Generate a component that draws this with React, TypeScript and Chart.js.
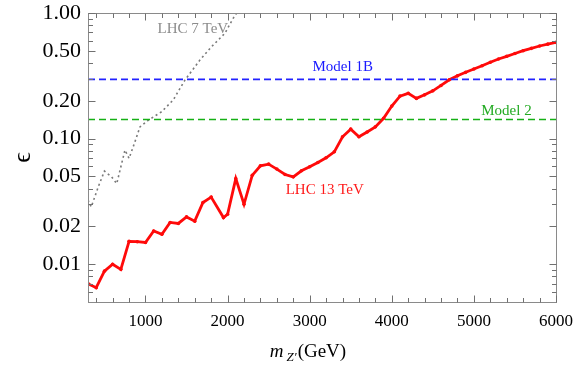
import React, { useEffect, useRef } from "react";
import { Chart, registerables } from "chart.js";

Chart.register(...registerables);

// ---- data ----
const lhc13Mass = [300, 400, 500, 600, 700, 800, 900, 1000, 1100, 1200, 1300, 1400, 1500, 1600, 1700, 1800, 1950, 2000, 2100, 2200, 2300, 2400, 2500, 2600, 2700, 2800, 2900, 3000, 3100, 3200, 3300, 3400, 3500, 3600, 3700, 3800, 3900, 4000, 4100, 4200, 4300, 4400, 4500, 4600, 4700, 4800, 4900, 5000, 5100, 5200, 5300, 5400, 5500, 5600, 5700, 5800, 5900, 6000];
const lhc13Eps = [0.0070, 0.0065, 0.0088, 0.0100, 0.0091, 0.0152, 0.0151, 0.0149, 0.0184, 0.0173, 0.0215, 0.0211, 0.0238, 0.0220, 0.0310, 0.0342, 0.0235, 0.0250, 0.0480, 0.0300, 0.0510, 0.0607, 0.0626, 0.0572, 0.0518, 0.0496, 0.0554, 0.0596, 0.0646, 0.0703, 0.0785, 0.1033, 0.1190, 0.1033, 0.1130, 0.1240, 0.1450, 0.1815, 0.2180, 0.2290, 0.2090, 0.2230, 0.2400, 0.2650, 0.2940, 0.3160, 0.3370, 0.3580, 0.3800, 0.4050, 0.4300, 0.4520, 0.4760, 0.5010, 0.5230, 0.5460, 0.5650, 0.5840];

const lhc7Mass = [300, 340, 425, 500, 588, 650, 690, 750, 800, 865, 933, 1034, 1197, 1338, 1480, 1663, 1805, 1967, 2068, 2110];
const lhc7Eps = [0.0324, 0.0286, 0.0413, 0.0551, 0.0496, 0.0438, 0.0560, 0.0810, 0.0695, 0.0916, 0.1240, 0.1400, 0.1636, 0.2030, 0.2920, 0.4220, 0.5390, 0.6890, 0.9070, 1.0];

const model1BEps = 0.296;
const model2Eps = 0.142;
const massRange = [300, 6000];
const epsRange = [0.005, 1];

const xTickValues = [1000, 2000, 3000, 4000, 5000, 6000];
const xMinorValues = [400, 600, 800, 1200, 1400, 1600, 1800, 2200, 2400, 2600, 2800, 3200, 3400, 3600, 3800, 4200, 4400, 4600, 4800, 5200, 5400, 5600, 5800];
const yTickValues = [0.01, 0.02, 0.05, 0.1, 0.2, 0.5, 1.0];
const yTickLabels = ["0.01", "0.02", "0.05", "0.10", "0.20", "0.50", "1.00"];
const yMinorValues = [0.006, 0.007, 0.008, 0.009, 0.03, 0.04, 0.06, 0.07, 0.08, 0.09, 0.3, 0.4, 0.6, 0.7, 0.8, 0.9];

// annotation labels: text, mass, eps, colour
const labelTexts = ["LHC 7 TeV", "Model 1B", "Model 2", "LHC 13 TeV"];
const labelMass = [1577, 3402, 5397, 3183];
const labelEps = [0.75, 0.368, 0.166, 0.0389];
const labelColors = ["#8c8c8c", "#1a1aff", "#22aa22", "#ff1a1a"];

const SERIF = '"Liberation Serif", "Times New Roman", serif';

const decorPlugin = {
  id: "decor",
  afterDatasetsDraw(chart: any) {
    const { ctx, chartArea: a, scales } = chart;
    const xs = scales.x;
    const ys = scales.y;
    const L = Math.round(a.left) + 0.5;
    const R = Math.round(a.right) + 0.5;
    const T = Math.round(a.top) + 0.5;
    const B = Math.round(a.bottom) + 0.5;
    ctx.save();
    ctx.strokeStyle = "#8a8a8a";
    ctx.lineWidth = 1;
    ctx.strokeRect(L, T, R - L, B - T);
    ctx.strokeStyle = "#707070";
    const drawX = (v: number, len: number) => {
      const px = Math.round(xs.getPixelForValue(v)) + 0.5;
      ctx.beginPath();
      ctx.moveTo(px, B);
      ctx.lineTo(px, B - len);
      ctx.moveTo(px, T);
      ctx.lineTo(px, T + len);
      ctx.stroke();
    };
    const drawY = (v: number, len: number) => {
      const py = Math.round(ys.getPixelForValue(v)) + 0.5;
      ctx.beginPath();
      ctx.moveTo(L, py);
      ctx.lineTo(L + len, py);
      ctx.moveTo(R, py);
      ctx.lineTo(R - len, py);
      ctx.stroke();
    };
    xTickValues.forEach((v) => drawX(v, 7));
    xMinorValues.forEach((v) => drawX(v, 4.5));
    yTickValues.forEach((v) => drawY(v, 7));
    yMinorValues.forEach((v) => drawY(v, 4.5));

    // curve labels
    ctx.textAlign = "center";
    ctx.textBaseline = "middle";
    ctx.font = `15px ${SERIF}`;
    for (let i = 0; i < labelTexts.length; i++) {
      ctx.fillStyle = labelColors[i];
      ctx.fillText(labelTexts[i], xs.getPixelForValue(labelMass[i]), ys.getPixelForValue(labelEps[i]));
    }
    ctx.restore();
  },
  afterDraw(chart: any) {
    const { ctx, chartArea: a } = chart;
    ctx.save();
    ctx.fillStyle = "#000";
    ctx.textBaseline = "alphabetic";
    ctx.textAlign = "left";
    // x axis title: m_{Z'}(GeV)
    const fBig = `italic 19px ${SERIF}`;
    const fSub = `italic 13px ${SERIF}`;
    const fReg = `19px ${SERIF}`;
    ctx.font = fBig;
    const wm = ctx.measureText("m").width;
    ctx.font = fSub;
    const wz = ctx.measureText("Z\u2032").width;
    ctx.font = fReg;
    const wg = ctx.measureText("(GeV)").width;
    const total = wm + 3 + wz + 1 + wg;
    const cx = (a.left + a.right) / 2 - 14;
    let x0 = cx - total / 2;
    const base = chart.height - 9;
    ctx.font = fBig;
    ctx.fillText("m", x0, base);
    x0 += wm + 3;
    ctx.font = fSub;
    ctx.fillText("Z\u2032", x0, base + 4);
    x0 += wz + 1;
    ctx.font = fReg;
    ctx.fillText("(GeV)", x0, base);
    // y axis title: epsilon, rotated
    ctx.translate(23, (a.top + a.bottom) / 2);
    ctx.rotate(-Math.PI / 2);
    ctx.textAlign = "center";
    ctx.textBaseline = "middle";
    ctx.font = `26px ${SERIF}`;
    ctx.fillText("\u03F5", 0, 0);
    ctx.restore();
  },
};

export default function App() {
  const ref = useRef<HTMLCanvasElement | null>(null);
  useEffect(() => {
    if (!ref.current) return;
    const toPts = (xs: number[], ys: number[]) => xs.map((x, i) => ({ x, y: ys[i] }));
    const chart = new Chart(ref.current, {
      type: "line",
      data: {
        datasets: [
          {
            label: "Model 1B",
            data: [
              { x: massRange[0], y: model1BEps },
              { x: massRange[1], y: model1BEps },
            ],
            borderColor: "#2222ff",
            borderWidth: 1.6,
            borderDash: [7, 4],
            pointRadius: 0,
          },
          {
            label: "Model 2",
            data: [
              { x: massRange[0], y: model2Eps },
              { x: massRange[1], y: model2Eps },
            ],
            borderColor: "#16b016",
            borderWidth: 1.6,
            borderDash: [7, 4],
            pointRadius: 0,
          },
          {
            label: "LHC 7 TeV",
            data: toPts(lhc7Mass, lhc7Eps),
            borderColor: "#7a7a7a",
            borderWidth: 1.6,
            borderDash: [2, 3],
            pointRadius: 0,
          },
          {
            label: "LHC 13 TeV",
            data: toPts(lhc13Mass, lhc13Eps),
            borderColor: "#ff0a0a",
            backgroundColor: "#ff0a0a",
            borderWidth: 2.8,
            pointRadius: 1.8,
            pointBorderWidth: 0,
            pointBackgroundColor: "#ff0a0a",
          },
        ],
      },
      options: {
        responsive: false,
        animation: false,
        events: [],
        layout: { padding: { left: 0, top: 13, right: 25, bottom: 0 } },
        plugins: { legend: { display: false }, tooltip: { enabled: false } },
        scales: {
          x: {
            type: "linear",
            min: massRange[0],
            max: massRange[1],
            grid: { display: false, drawTicks: false },
            border: { display: false },
            afterBuildTicks: (s: any) => {
              s.ticks = xTickValues.map((v) => ({ value: v }));
            },
            afterFit: (s: any) => {
              s.height = 64;
              s.paddingLeft = 0;
              s.paddingRight = 0;
            },
            ticks: {
              color: "#000",
              font: { family: SERIF, size: 17 },
              padding: 9,
              maxRotation: 0,
              autoSkip: false,
              callback: (v: any) => String(v),
            },
          },
          y: {
            type: "logarithmic",
            min: epsRange[0],
            max: epsRange[1],
            grid: { display: false, drawTicks: false },
            border: { display: false },
            afterBuildTicks: (s: any) => {
              s.ticks = yTickValues.map((v) => ({ value: v }));
            },
            afterFit: (s: any) => {
              s.width = 88;
              s.paddingTop = 0;
              s.paddingBottom = 0;
            },
            ticks: {
              color: "#000",
              font: { family: SERIF, size: 22 },
              padding: 7,
              autoSkip: false,
              callback: (v: any) => {
                const i = yTickValues.findIndex((t) => Math.abs(t - Number(v)) < 1e-9);
                return i >= 0 ? yTickLabels[i] : "";
              },
            },
          },
        },
      },
      plugins: [decorPlugin],
    } as any);
    return () => chart.destroy();
  }, []);
  return (
    <div style={{ position: "fixed", left: 0, top: 0, width: 581, height: 366, background: "#fff" }}>
      <canvas ref={ref} width={581} height={366} style={{ display: "block" }} />
    </div>
  );
}
